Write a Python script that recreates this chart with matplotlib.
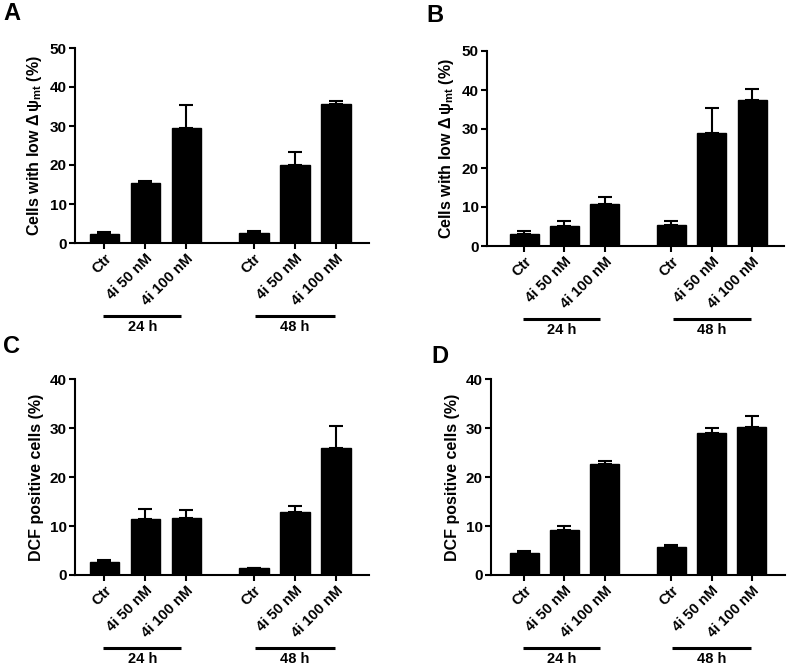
import matplotlib
matplotlib.use("Agg")
import matplotlib.pyplot as plt
import matplotlib.transforms as mtransforms

plt.rcParams['font.family'] = ['Liberation Sans', 'DejaVu Sans']
plt.rcParams['font.weight'] = 'bold'
plt.rcParams['mathtext.fontset'] = 'custom'
plt.rcParams['mathtext.rm'] = 'Liberation Sans'
plt.rcParams['mathtext.it'] = 'Liberation Sans'
plt.rcParams['mathtext.bf'] = 'Liberation Sans:bold'

categories = ["Ctr", "4i 50 nM", "4i 100 nM", "Ctr", "4i 50 nM", "4i 100 nM"]
groups = ["24 h", "48 h"]

a_vals = [2.3, 15.3, 29.6, 2.55, 19.9, 35.7]
a_err = [0.4, 0.5, 5.9, 0.65, 3.4, 0.8]
b_vals = [3.0, 5.2, 10.8, 5.4, 28.9, 37.5]
b_err = [0.85, 1.1, 1.7, 1.0, 6.4, 2.8]
c_vals = [2.6, 11.5, 11.7, 1.5, 12.9, 26.0]
c_err = [0.5, 2.0, 1.6, 0.0, 1.2, 4.5]
d_vals = [4.4, 9.2, 22.7, 5.7, 29.0, 30.2]
d_err = [0.4, 0.7, 0.6, 0.4, 1.0, 2.2]

positions = [0, 1, 2, 3.65, 4.65, 5.65]

ylabel_psi = r"Cells with low $\Delta\,\psi_{\mathbf{mt}}$ (%)"
ylabel_dcf = "DCF positive cells (%)"

W, H = 787, 666
fig = plt.figure(figsize=(W / 100, H / 100), dpi=100)

def px_axes(left, right, top, bottom):
    return fig.add_axes([left / W, 1 - bottom / H, (right - left) / W, (bottom - top) / H])

panels = [
    dict(letter="A", lx=3, ly=20, box=(75, 369, 48, 243), vals=a_vals, err=a_err, ymax=50,
         ylabel=ylabel_psi, xlim=(-0.72, 6.46)),
    dict(letter="B", lx=426, ly=22, box=(487, 784, 51, 246), vals=b_vals, err=b_err, ymax=50,
         ylabel=ylabel_psi, xlim=(-0.92, 6.44)),
    dict(letter="C", lx=3, ly=353, box=(75, 369, 379, 575), vals=c_vals, err=c_err, ymax=40,
         ylabel=ylabel_dcf, xlim=(-0.72, 6.46)),
    dict(letter="D", lx=431, ly=363, box=(491, 785, 379, 575), vals=d_vals, err=d_err, ymax=40,
         ylabel=ylabel_dcf, xlim=(-0.82, 6.47)),
]

for p in panels:
    l, r, t, b = p["box"]
    ax = px_axes(l, r, t, b)
    ax.bar(positions, p["vals"], width=0.72, color="black", edgecolor="black", zorder=2)
    ax.errorbar(positions, p["vals"], yerr=[[0] * 6, p["err"]], fmt="none",
                ecolor="black", elinewidth=1.5, capsize=5, capthick=1.5, zorder=1)
    ax.set_ylim(0, p["ymax"])
    ax.set_xlim(*p["xlim"])
    ax.set_yticks(range(0, p["ymax"] + 1, 10))
    ax.set_xticks(positions)
    ax.set_xticklabels(categories, rotation=45, ha="right", rotation_mode="anchor",
                       fontsize=10.5, fontweight="bold")
    for lab in ax.get_yticklabels():
        lab.set_fontsize(11)
        lab.set_fontweight("bold")
    ax.tick_params(axis="both", direction="out", length=4, width=1.5, pad=2)
    for s in ["top", "right"]:
        ax.spines[s].set_visible(False)
    for s in ["left", "bottom"]:
        ax.spines[s].set_linewidth(1.5)
    ax.set_ylabel(p["ylabel"], fontsize=11.5, fontweight="bold", labelpad=4)
    trans = mtransforms.blended_transform_factory(ax.transData, ax.transAxes)
    height = b - t
    line_y = -73 / height
    text_y = -84 / height
    for (x0, x1), g in zip([(positions[0] - 0.03, positions[2] - 0.12),
                            (positions[3] + 0.03, positions[5] - 0.03)], groups):
        ax.plot([x0, x1], [line_y, line_y], color="black", lw=2.2, transform=trans,
                clip_on=False, solid_capstyle="butt")
        ax.text((x0 + x1) / 2, text_y, g, transform=trans, ha="center", va="center",
                fontsize=10.5, fontweight="bold")
    fig.text(p["lx"] / W, 1 - p["ly"] / H, p["letter"], fontsize=17, fontweight="bold",
             ha="left", va="baseline")

fig.savefig("out.png", dpi=100)
